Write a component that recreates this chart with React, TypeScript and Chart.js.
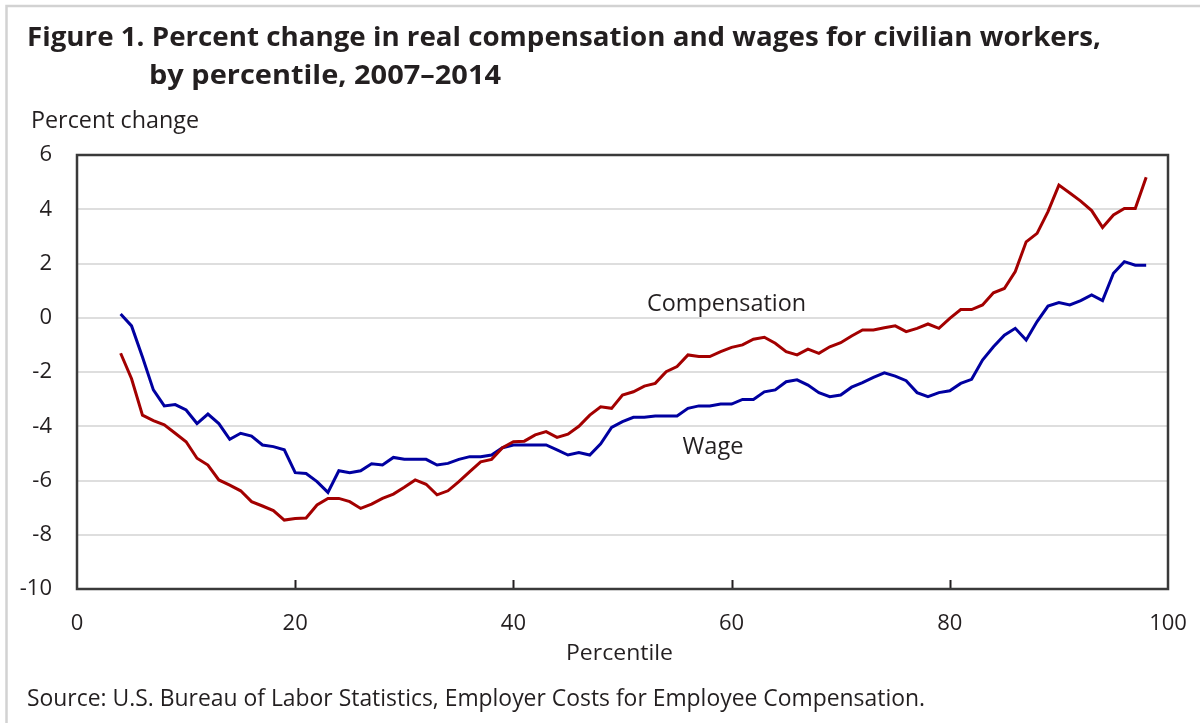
import React, { useEffect, useRef } from "react";
import { Chart, registerables } from "chart.js";

Chart.register(...registerables);

const percentiles = [
  4, 5, 6, 7, 8, 9, 10, 11, 12, 13, 14, 15, 16, 17, 18, 19, 20, 21, 22, 23, 24, 25, 26, 27, 28, 29,
  30, 31, 32, 33, 34, 35, 36, 37, 38, 39, 40, 41, 42, 43, 44, 45, 46, 47, 48, 49, 50, 51, 52, 53, 54,
  55, 56, 57, 58, 59, 60, 61, 62, 63, 64, 65, 66, 67, 68, 69, 70, 71, 72, 73, 74, 75, 76, 77, 78, 79,
  80, 81, 82, 83, 84, 85, 86, 87, 88, 89, 90, 91, 92, 93, 94, 95, 96, 97, 98,
];

const compensation = [
  -1.31, -2.25, -3.59, -3.79, -3.95, -4.26, -4.57, -5.18, -5.43, -5.98, -6.17, -6.38, -6.78, -6.94,
  -7.11, -7.46, -7.4, -7.38, -6.9, -6.66, -6.66, -6.78, -7.03, -6.87, -6.66, -6.5, -6.25, -5.98,
  -6.14, -6.53, -6.38, -6.04, -5.67, -5.31, -5.22, -4.79, -4.57, -4.55, -4.32, -4.2, -4.41, -4.29,
  -4.0, -3.59, -3.28, -3.34, -2.85, -2.73, -2.52, -2.42, -1.99, -1.8, -1.37, -1.43, -1.43, -1.25,
  -1.09, -1.0, -0.79, -0.72, -0.94, -1.25, -1.37, -1.16, -1.31, -1.07, -0.92, -0.67, -0.45, -0.45,
  -0.37, -0.3, -0.51, -0.39, -0.23, -0.39, -0.02, 0.3, 0.3, 0.47, 0.92, 1.08, 1.7, 2.8, 3.11, 3.91,
  4.89, 4.6, 4.3, 3.95, 3.33, 3.79, 4.03, 4.03, 5.18,
];

const wages = [
  0.14, -0.3, -1.45, -2.66, -3.25, -3.2, -3.4, -3.9, -3.55, -3.9, -4.48, -4.26, -4.36, -4.69, -4.75,
  -4.87, -5.71, -5.74, -6.04, -6.44, -5.64, -5.71, -5.64, -5.38, -5.43, -5.15, -5.22, -5.22, -5.22,
  -5.43, -5.37, -5.22, -5.12, -5.12, -5.06, -4.79, -4.69, -4.69, -4.69, -4.69, -4.87, -5.06, -4.97,
  -5.06, -4.65, -4.04, -3.83, -3.67, -3.67, -3.62, -3.62, -3.62, -3.34, -3.25, -3.25, -3.18, -3.18,
  -3.01, -3.01, -2.73, -2.66, -2.36, -2.29, -2.48, -2.76, -2.91, -2.85, -2.56, -2.39, -2.2, -2.03,
  -2.15, -2.32, -2.76, -2.91, -2.76, -2.69, -2.42, -2.27, -1.56, -1.07, -0.64, -0.39, -0.82, -0.14,
  0.43, 0.56, 0.47, 0.63, 0.84, 0.63, 1.64, 2.07, 1.94, 1.94,
];

const xTicks = [0, 20, 40, 60, 80, 100];
const yTicks = [6, 4, 2, 0, -2, -4, -6, -8, -10];

const titleLine1 = "Figure 1. Percent change in real compensation and wages for civilian workers,";
const titleLine2 = "by percentile, 2007\u20132014";
const yAxisTitle = "Percent change";
const xAxisTitle = "Percentile";
const sourceText = "Source: U.S. Bureau of Labor Statistics, Employer Costs for Employee Compensation.";
const seriesNames = ["Compensation", "Wage"];

const FONT = '"Open Sans", "Noto Sans", "DejaVu Sans", sans-serif';
const TEXT = "#231f20";
const RED = "#a30000";
const BLUE = "#0000a0";

function fitText(ctx: CanvasRenderingContext2D, text: string, x: number, y: number, width: number, font: string) {
  ctx.save();
  ctx.font = font;
  ctx.fillStyle = TEXT;
  ctx.textAlign = "left";
  ctx.textBaseline = "alphabetic";
  const w = ctx.measureText(text).width;
  ctx.translate(x, y);
  ctx.scale(width / w, 1);
  ctx.fillText(text, 0, 0);
  ctx.restore();
}

const decorPlugin = {
  id: "decor",
  beforeDraw(chart: any) {
    const ctx = chart.ctx as CanvasRenderingContext2D;
    ctx.save();
    ctx.fillStyle = "#ffffff";
    ctx.fillRect(0, 0, chart.width, chart.height);
    ctx.strokeStyle = "#d2d2d2";
    ctx.lineWidth = 2.5;
    ctx.beginPath();
    ctx.moveTo(6.5, 723);
    ctx.lineTo(6.5, 6);
    ctx.lineTo(1200, 6);
    ctx.stroke();
    ctx.restore();

    fitText(ctx, titleLine1, 27, 46, 1074, `bold 27px ${FONT}`);
    fitText(ctx, titleLine2, 149, 84, 352, `bold 27px ${FONT}`);
    fitText(ctx, yAxisTitle, 31, 128, 168, `23px ${FONT}`);
    fitText(ctx, xAxisTitle, 566, 660, 107, `22px ${FONT}`);
    fitText(ctx, sourceText, 27, 706, 898, `24px ${FONT}`);
  },
  afterDatasetsDraw(chart: any) {
    const ctx = chart.ctx as CanvasRenderingContext2D;
    const { left, top, right, bottom } = chart.chartArea;
    const xs = chart.scales.x;
    const ys = chart.scales.y;
    ctx.save();
    ctx.strokeStyle = "#231f20";
    ctx.lineWidth = 2;
    for (const v of xTicks) {
      if (v === 0 || v === 100) continue;
      const px = Math.round(xs.getPixelForValue(v)) + 0.5;
      ctx.beginPath();
      ctx.moveTo(px, bottom);
      ctx.lineTo(px, bottom - 9);
      ctx.stroke();
    }
    ctx.strokeStyle = "#3a3a3a";
    ctx.lineWidth = 2.5;
    ctx.strokeRect(left, top, right - left, bottom - top);
    ctx.restore();

    fitText(ctx, seriesNames[0], xs.getPixelForValue(52.25), ys.getPixelForValue(0.25), 159, `23px ${FONT}`);
    fitText(ctx, seriesNames[1], xs.getPixelForValue(55.5), ys.getPixelForValue(-5.02), 61, `23px ${FONT}`);
  },
};

export default function App() {
  const ref = useRef<HTMLCanvasElement | null>(null);

  useEffect(() => {
    if (!ref.current) return;
    const chart = new Chart(ref.current, {
      type: "line",
      data: {
        datasets: [
          {
            label: seriesNames[0],
            data: percentiles.map((p, i) => ({ x: p, y: compensation[i] })),
            borderColor: RED,
            borderWidth: 3,
            pointRadius: 0,
            tension: 0,
            fill: false,
          },
          {
            label: seriesNames[1],
            data: percentiles.map((p, i) => ({ x: p, y: wages[i] })),
            borderColor: BLUE,
            borderWidth: 3,
            pointRadius: 0,
            tension: 0,
            fill: false,
          },
        ],
      },
      options: {
        responsive: false,
        animation: false,
        devicePixelRatio: 1,
        layout: { padding: { top: 155, right: 32, left: 0, bottom: 0 } },
        plugins: {
          legend: { display: false },
          tooltip: { enabled: false },
          title: { display: false },
        },
        scales: {
          x: {
            type: "linear",
            min: 0,
            max: 100,
            afterFit: (s: any) => {
              s.height = 137;
              s.paddingLeft = 0;
              s.paddingRight = 0;
            },
            afterBuildTicks: (s: any) => {
              s.ticks = xTicks.map((v) => ({ value: v }));
            },
            ticks: {
              color: TEXT,
              font: { family: FONT, size: 22 },
              padding: 22,
              maxRotation: 0,
              autoSkip: false,
            },
            grid: { display: true, drawOnChartArea: false, drawTicks: false },
            border: { display: false },
          },
          y: {
            type: "linear",
            min: -10,
            max: 6,
            afterFit: (s: any) => {
              s.width = 77;
              s.paddingTop = 0;
              s.paddingBottom = 0;
            },
            afterBuildTicks: (s: any) => {
              s.ticks = yTicks.map((v) => ({ value: v }));
            },
            ticks: {
              color: TEXT,
              font: { family: FONT, size: 22 },
              padding: 25,
              autoSkip: false,
            },
            grid: {
              drawTicks: false,
              lineWidth: 2,
              color: (c: any) =>
                c.tick && (c.tick.value === 6 || c.tick.value === -10) ? "rgba(0,0,0,0)" : "#dedede",
            },
            border: { display: false },
          },
        },
      },
      plugins: [decorPlugin],
    });
    return () => chart.destroy();
  }, []);

  return (
    <div style={{ position: "absolute", left: 0, top: 0, width: 1200, height: 726, background: "#fff" }}>
      <canvas ref={ref} width={1200} height={726} style={{ display: "block", width: 1200, height: 726 }} />
    </div>
  );
}
